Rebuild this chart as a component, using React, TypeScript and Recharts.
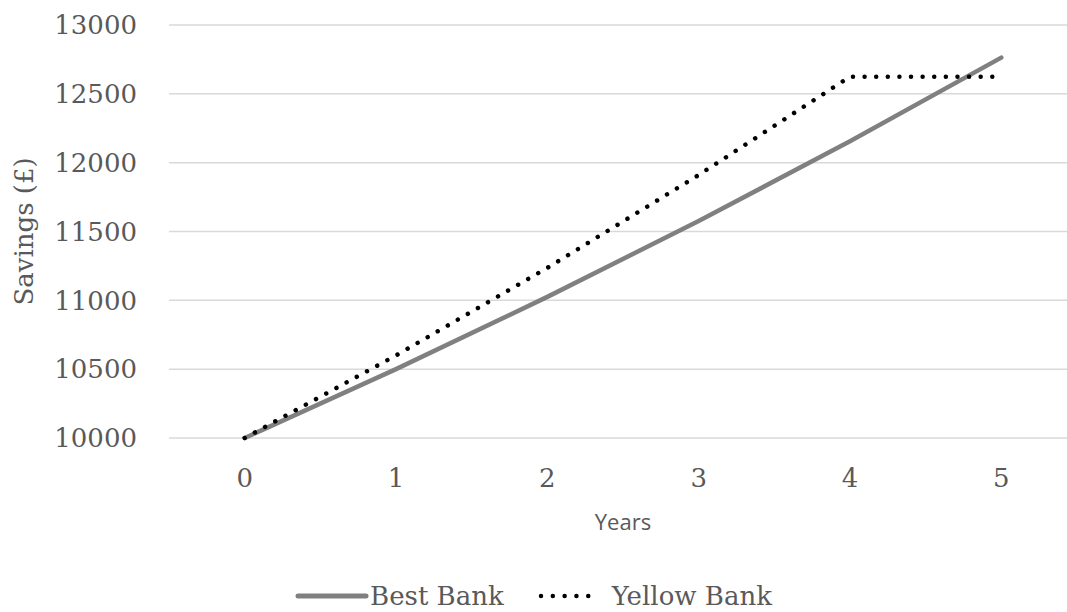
import React from 'react';
import { LineChart, Line, XAxis, YAxis, CartesianGrid, Legend } from 'recharts';

const years = ['0', '1', '2', '3', '4', '5'];
const bestBank = [10000, 10500, 11025, 11576.25, 12155.06, 12762.82];
const yellowBank = [10000, 10600, 11236, 11910.16, 12624.77, 12624.77];
const yTicks = [10000, 10500, 11000, 11500, 12000, 12500, 13000];

const data = years.map((y, i) => ({ year: y, best: bestBank[i], yellow: yellowBank[i] }));

const TEXT = '#595959';
const SERIF = '"DejaVu Serif", serif';

const LegendContent = () => (
  <div
    style={{
      display: 'flex',
      justifyContent: 'center',
      alignItems: 'center',
      fontFamily: SERIF,
      fontSize: 26,
      color: TEXT,
      lineHeight: '30px',
    }}
  >
    <svg width={74} height={10} style={{ marginRight: 1 }}>
      <line x1={3} y1={5} x2={71} y2={5} stroke="#808080" strokeWidth={5} strokeLinecap="round" />
    </svg>
    <span style={{ marginRight: 34 }}>Best Bank</span>
    <svg width={64} height={10} style={{ marginRight: 10 }}>
      <line x1={3} y1={5} x2={62} y2={5} stroke="#000" strokeWidth={4.5} strokeLinecap="round" strokeDasharray="0.01 11.8" />
    </svg>
    <span>Yellow Bank</span>
  </div>
);

export default function App() {
  return (
    <div style={{ position: 'fixed', left: 0, top: 0, width: 1067, height: 612, overflow: 'hidden', background: '#fff' }}>
      <LineChart
        width={1090}
        height={612}
        data={data}
        margin={{ top: 25, right: 13, bottom: 44, left: 0 }}
      >
        <CartesianGrid horizontal vertical={false} stroke="#d9d9d9" strokeWidth={1.5} />
        <XAxis
          dataKey="year"
          axisLine={false}
          tickLine={false}
          tickSize={0}
          tickMargin={31}
          padding={{ left: 75.7, right: 75.7 }}
          height={100}
          tick={{ fill: TEXT, fontFamily: SERIF, fontSize: 26 }}
          label={{
            value: 'Years',
            position: 'insideBottom',
            offset: 8,
            fill: TEXT,
            fontFamily: '"Open Sans", sans-serif',
            fontSize: 22,
          }}
        />
        <YAxis
          domain={[10000, 13000]}
          ticks={yTicks}
          axisLine={false}
          tickLine={false}
          tickSize={0}
          tickMargin={32}
          width={169}
          interval={0}
          tick={{ fill: TEXT, fontFamily: SERIF, fontSize: 26 }}
          label={{
            value: 'Savings (£)',
            angle: -90,
            position: 'insideLeft',
            offset: 0,
            dx: 24,
            style: { textAnchor: 'middle' },
            fill: TEXT,
            fontFamily: SERIF,
            fontSize: 26,
          }}
        />
        <Line
          type="linear"
          dataKey="best"
          stroke="#808080"
          strokeWidth={4.5}
          strokeLinecap="round"
          dot={false}
          isAnimationActive={false}
        />
        <Line
          type="linear"
          dataKey="yellow"
          stroke="#000000"
          strokeWidth={4.5}
          strokeLinecap="round"
          strokeDasharray="0.01 11.6"
          dot={false}
          isAnimationActive={false}
        />
        <Legend content={<LegendContent />} wrapperStyle={{ top: 581, left: 0, width: 1067, bottom: 'auto' }} />
      </LineChart>
    </div>
  );
}
